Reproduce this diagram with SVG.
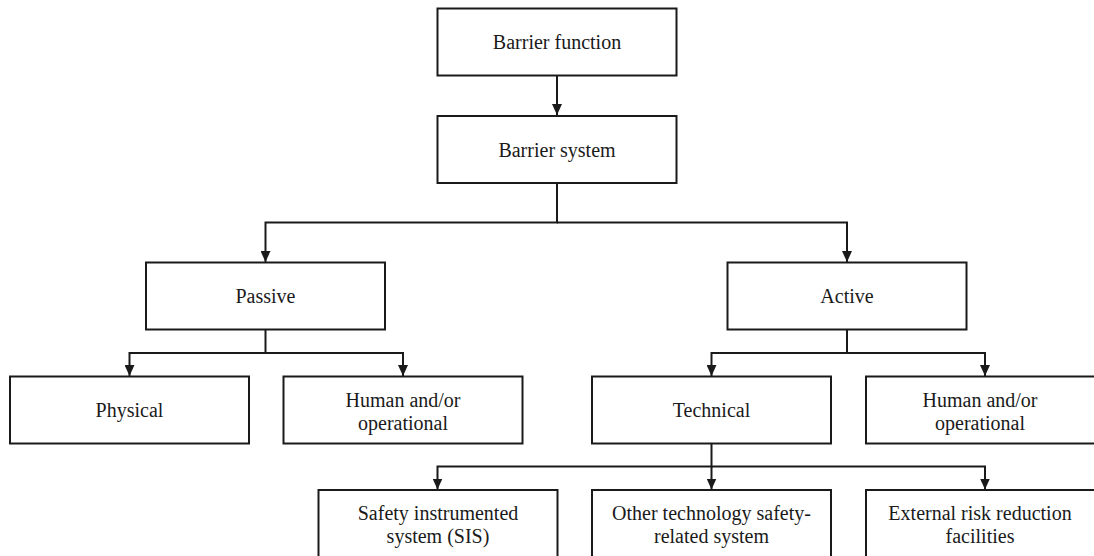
<svg xmlns="http://www.w3.org/2000/svg" width="1094" height="556" viewBox="0 0 1094 556">
<defs>
<style>
.box{fill:#fff;stroke:#1a1a1a;stroke-width:2}
.lbl{font-family:"Liberation Serif","Times New Roman",serif;font-size:20px;fill:#1a1a1a;text-anchor:middle}
.con{fill:none;stroke:#1a1a1a;stroke-width:2;marker-end:url(#ad)}
</style>
<marker id="ad" markerWidth="10" markerHeight="11" refX="5" refY="11" orient="0" markerUnits="userSpaceOnUse" viewBox="0 0 10 11">
<path d="M0,0 L10,0 L5,11 Z" fill="#1a1a1a"/>
</marker>
</defs>
<rect width="1094" height="556" fill="#fff"/>
<g id="connectors">
<path class="con" d="M557,75 V115"/>
<path class="con" d="M557,183 V222.5 H265.5 V262"/>
<path class="con" d="M557,222.5 H847 V262"/>
<path class="con" d="M265.5,330 V353 H129.5 V376"/>
<path class="con" d="M265.5,353 H403 V376"/>
<path class="con" d="M847,330 V353 H711.5 V376"/>
<path class="con" d="M847,353 H985 V376"/>
<path class="con" d="M711.5,443.5 V466.5 H437.5 V489.5"/>
<path class="con" d="M711.5,466.5 V489.5"/>
<path class="con" d="M711.5,466.5 H985 V489.5"/>
</g>
<g id="barrier-function">
<rect class="box" x="437.5" y="8.5" width="239" height="67"/>
<text class="lbl" x="557" y="49">Barrier function</text>
</g>
<g id="barrier-system">
<rect class="box" x="437.5" y="116" width="239" height="67"/>
<text class="lbl" x="557" y="156.5">Barrier system</text>
</g>
<g id="passive">
<rect class="box" x="146" y="262.5" width="239" height="67"/>
<text class="lbl" x="265.5" y="303">Passive</text>
</g>
<g id="active">
<rect class="box" x="727.5" y="262.5" width="239" height="67"/>
<text class="lbl" x="847" y="303">Active</text>
</g>
<g id="physical">
<rect class="box" x="10" y="376.5" width="239" height="67"/>
<text class="lbl" x="129.5" y="417">Physical</text>
</g>
<g id="human-passive">
<rect class="box" x="283.5" y="376.5" width="239" height="67"/>
<text class="lbl" x="403" y="406.5">Human and/or</text>
<text class="lbl" x="403" y="429.5">operational</text>
</g>
<g id="technical">
<rect class="box" x="592" y="376.5" width="239" height="67"/>
<text class="lbl" x="711.5" y="417">Technical</text>
</g>
<g id="human-active">
<rect class="box" x="866" y="376.5" width="239" height="67"/>
<text class="lbl" x="980" y="406.5">Human and/or</text>
<text class="lbl" x="980" y="429.5">operational</text>
</g>
<g id="sis">
<rect class="box" x="318.5" y="490" width="239" height="67"/>
<text class="lbl" x="438" y="520">Safety instrumented</text>
<text class="lbl" x="438" y="543">system (SIS)</text>
</g>
<g id="other-tech">
<rect class="box" x="592" y="490" width="239" height="67"/>
<text class="lbl" x="711.5" y="520">Other technology safety-</text>
<text class="lbl" x="711.5" y="543">related system</text>
</g>
<g id="external">
<rect class="box" x="866" y="490" width="239" height="67"/>
<text class="lbl" x="980" y="520">External risk reduction</text>
<text class="lbl" x="980" y="543">facilities</text>
</g>
</svg>
